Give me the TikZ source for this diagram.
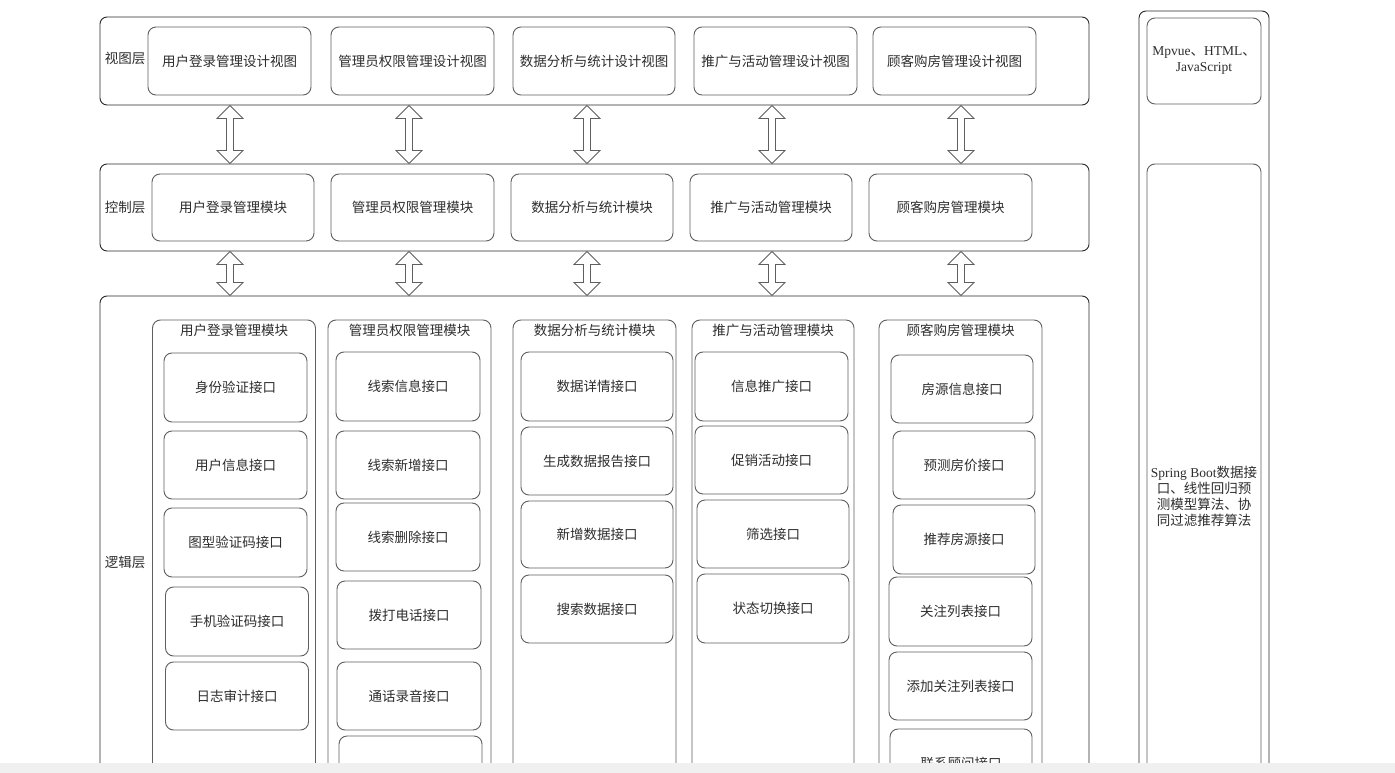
\documentclass[tikz,border=0pt]{standalone}
\usepackage{fontspec}
\setmainfont{Noto Sans CJK SC}
\newfontfamily\lat{Liberation Serif}
\usetikzlibrary{calc}
\definecolor{linedark}{RGB}{40,40,40}
\definecolor{linegray}{RGB}{95,95,95}
\definecolor{txt}{RGB}{45,45,45}
\definecolor{band}{RGB}{240,240,240}
\tikzset{
  layer/.style={draw=linedark, line width=0.9pt, rounded corners=7pt, inner sep=0pt},
  colbox/.style={draw=linegray, line width=0.9pt, rounded corners=8pt, inner sep=0pt},
  ibox/.style={draw=linegray, line width=0.9pt, rounded corners=8pt, inner sep=0pt,
    text=txt, font=\fontsize{13.5pt}{16pt}\selectfont, align=center},
  lbl/.style={inner sep=0pt, text=txt, font=\fontsize{13.5pt}{16pt}\selectfont, align=center},
  dblarrow/.style={draw=linegray, line width=0.8pt, fill=white,
    to path={let \p1=(\tikztostart), \p2=(\tikztotarget) in
      (\x1,\y1) -- (\x1+13,\y1-13) -- (\x1+3.5,\y1-13) -- (\x1+3.5,\y2+13) -- (\x1+13,\y2+13)
      -- (\x1,\y2) -- (\x1-13,\y2+13) -- (\x1-3.5,\y2+13) -- (\x1-3.5,\y1-13) -- (\x1-13,\y1-13) -- cycle}}
}
\begin{document}
\begin{tikzpicture}[x=1pt,y=-1pt]
\useasboundingbox (0,0) rectangle (1395,773);
\clip (0,0) rectangle (1395,773);
\fill[white] (0,0) rectangle (1395,773);

% layers
\node[layer, minimum width=989, minimum height=88] (view) at (594.5,61) {};
\node[layer, minimum width=989, minimum height=87] (ctrl) at (594.5,207.5) {};
\node[layer, minimum width=989, minimum height=539] (logic) at (594.5,565.5) {};
\node[lbl] (viewl) at (125,58) {视图层};
\node[lbl] (ctrll) at (125,207) {控制层};
\node[lbl] (logicl) at (125,562) {逻辑层};

% view boxes
\node[ibox, minimum width=163, minimum height=68] (v1) at (229.5,61) {用户登录管理设计视图};
\node[ibox, minimum width=163, minimum height=68] (v2) at (412.5,61) {管理员权限管理设计视图};
\node[ibox, minimum width=162, minimum height=68] (v3) at (594,61) {数据分析与统计设计视图};
\node[ibox, minimum width=163, minimum height=68] (v4) at (775.5,61) {推广与活动管理设计视图};
\node[ibox, minimum width=163, minimum height=68] (v5) at (954.5,61) {顾客购房管理设计视图};

% control boxes
\node[ibox, minimum width=162, minimum height=67] (c1) at (233,207.5) {用户登录管理模块};
\node[ibox, minimum width=163, minimum height=67] (c2) at (412.5,207.5) {管理员权限管理模块};
\node[ibox, minimum width=162, minimum height=67] (c3) at (592,207.5) {数据分析与统计模块};
\node[ibox, minimum width=162, minimum height=67] (c4) at (771,207.5) {推广与活动管理模块};
\node[ibox, minimum width=163, minimum height=67] (c5) at (950.5,207.5) {顾客购房管理模块};

% arrows
\coordinate (ax1) at (230,0);
\coordinate (ax2) at (409,0);
\coordinate (ax3) at (587,0);
\coordinate (ax4) at (772,0);
\coordinate (ax5) at (961,0);
\foreach \i in {1,...,5}{
  \draw[dblarrow] (view.south -| ax\i) to (ctrl.north -| ax\i);
  \draw[dblarrow] (ctrl.south -| ax\i) to (logic.north -| ax\i);
}

% logic columns
\node[colbox, minimum width=163, minimum height=505] (m1) at (234,572.5) {};
\node[colbox, minimum width=163, minimum height=505] (m2) at (409.5,572.5) {};
\node[colbox, minimum width=163, minimum height=505] (m3) at (594.5,572.5) {};
\node[colbox, minimum width=162, minimum height=505] (m4) at (773,572.5) {};
\node[colbox, minimum width=163, minimum height=505] (m5) at (960.5,572.5) {};
\node[lbl] (m1t) at (234,330) {用户登录管理模块};
\node[lbl] (m2t) at (409.5,330) {管理员权限管理模块};
\node[lbl] (m3t) at (594.5,330) {数据分析与统计模块};
\node[lbl] (m4t) at (773,330) {推广与活动管理模块};
\node[lbl] (m5t) at (960.5,330) {顾客购房管理模块};

% column 1
\node[ibox, minimum width=143, minimum height=69] (i11) at (235.5,387.5) {身份验证接口};
\node[ibox, minimum width=143, minimum height=68] (i12) at (235.5,465) {用户信息接口};
\node[ibox, minimum width=143, minimum height=69] (i13) at (235.5,542.5) {图型验证码接口};
\node[ibox, minimum width=143, minimum height=69] (i14) at (237,621.5) {手机验证码接口};
\node[ibox, minimum width=143, minimum height=68] (i15) at (237,696) {日志审计接口};

% column 2
\node[ibox, minimum width=144, minimum height=69] (i21) at (408,386.5) {线索信息接口};
\node[ibox, minimum width=144, minimum height=68] (i22) at (408,465) {线索新增接口};
\node[ibox, minimum width=144, minimum height=68] (i23) at (408,537) {线索删除接口};
\node[ibox, minimum width=144, minimum height=68] (i24) at (409,615) {拨打电话接口};
\node[ibox, minimum width=144, minimum height=68] (i25) at (409,696) {通话录音接口};
\node[ibox, minimum width=143, minimum height=68] (i26) at (410.5,770) {};

% column 3
\node[ibox, minimum width=152, minimum height=69] (i31) at (597,386.5) {数据详情接口};
\node[ibox, minimum width=152, minimum height=68] (i32) at (597,461) {生成数据报告接口};
\node[ibox, minimum width=152, minimum height=67] (i33) at (597,534.5) {新增数据接口};
\node[ibox, minimum width=152, minimum height=68] (i34) at (597,609) {搜索数据接口};

% column 4
\node[ibox, minimum width=153, minimum height=69] (i41) at (771.5,386.5) {信息推广接口};
\node[ibox, minimum width=153, minimum height=68] (i42) at (771.5,460) {促销活动接口};
\node[ibox, minimum width=152, minimum height=68] (i43) at (773,534) {筛选接口};
\node[ibox, minimum width=152, minimum height=69] (i44) at (773,608.5) {状态切换接口};

% column 5
\node[ibox, minimum width=142, minimum height=68] (i51) at (962,389) {房源信息接口};
\node[ibox, minimum width=142, minimum height=68] (i52) at (964,465) {预测房价接口};
\node[ibox, minimum width=142, minimum height=69] (i53) at (964,539.5) {推荐房源接口};
\node[ibox, minimum width=143, minimum height=69] (i54) at (960.5,611.5) {关注列表接口};
\node[ibox, minimum width=143, minimum height=68] (i55) at (960.5,686) {添加关注列表接口};
\node[ibox, minimum width=142, minimum height=68] (i56) at (961,763) {联系顾问接口};

% right column
\node[layer, minimum width=130, minimum height=824] (rc) at (1204,423) {};
\node[ibox, minimum width=114, minimum height=86] (r1) at (1204,61)
  {{\lat Mpvue}、{\lat HTML}、\\{\lat JavaScript}};
\node[ibox, minimum width=114, minimum height=664] (r2) at (1204,496)
  {{\lat Spring Boot}数据接\\口、线性回归预\\测模型算法、协\\同过滤推荐算法};

% bottom band
\fill[band] (0,763) rectangle (1395,773);
\end{tikzpicture}
\end{document}
